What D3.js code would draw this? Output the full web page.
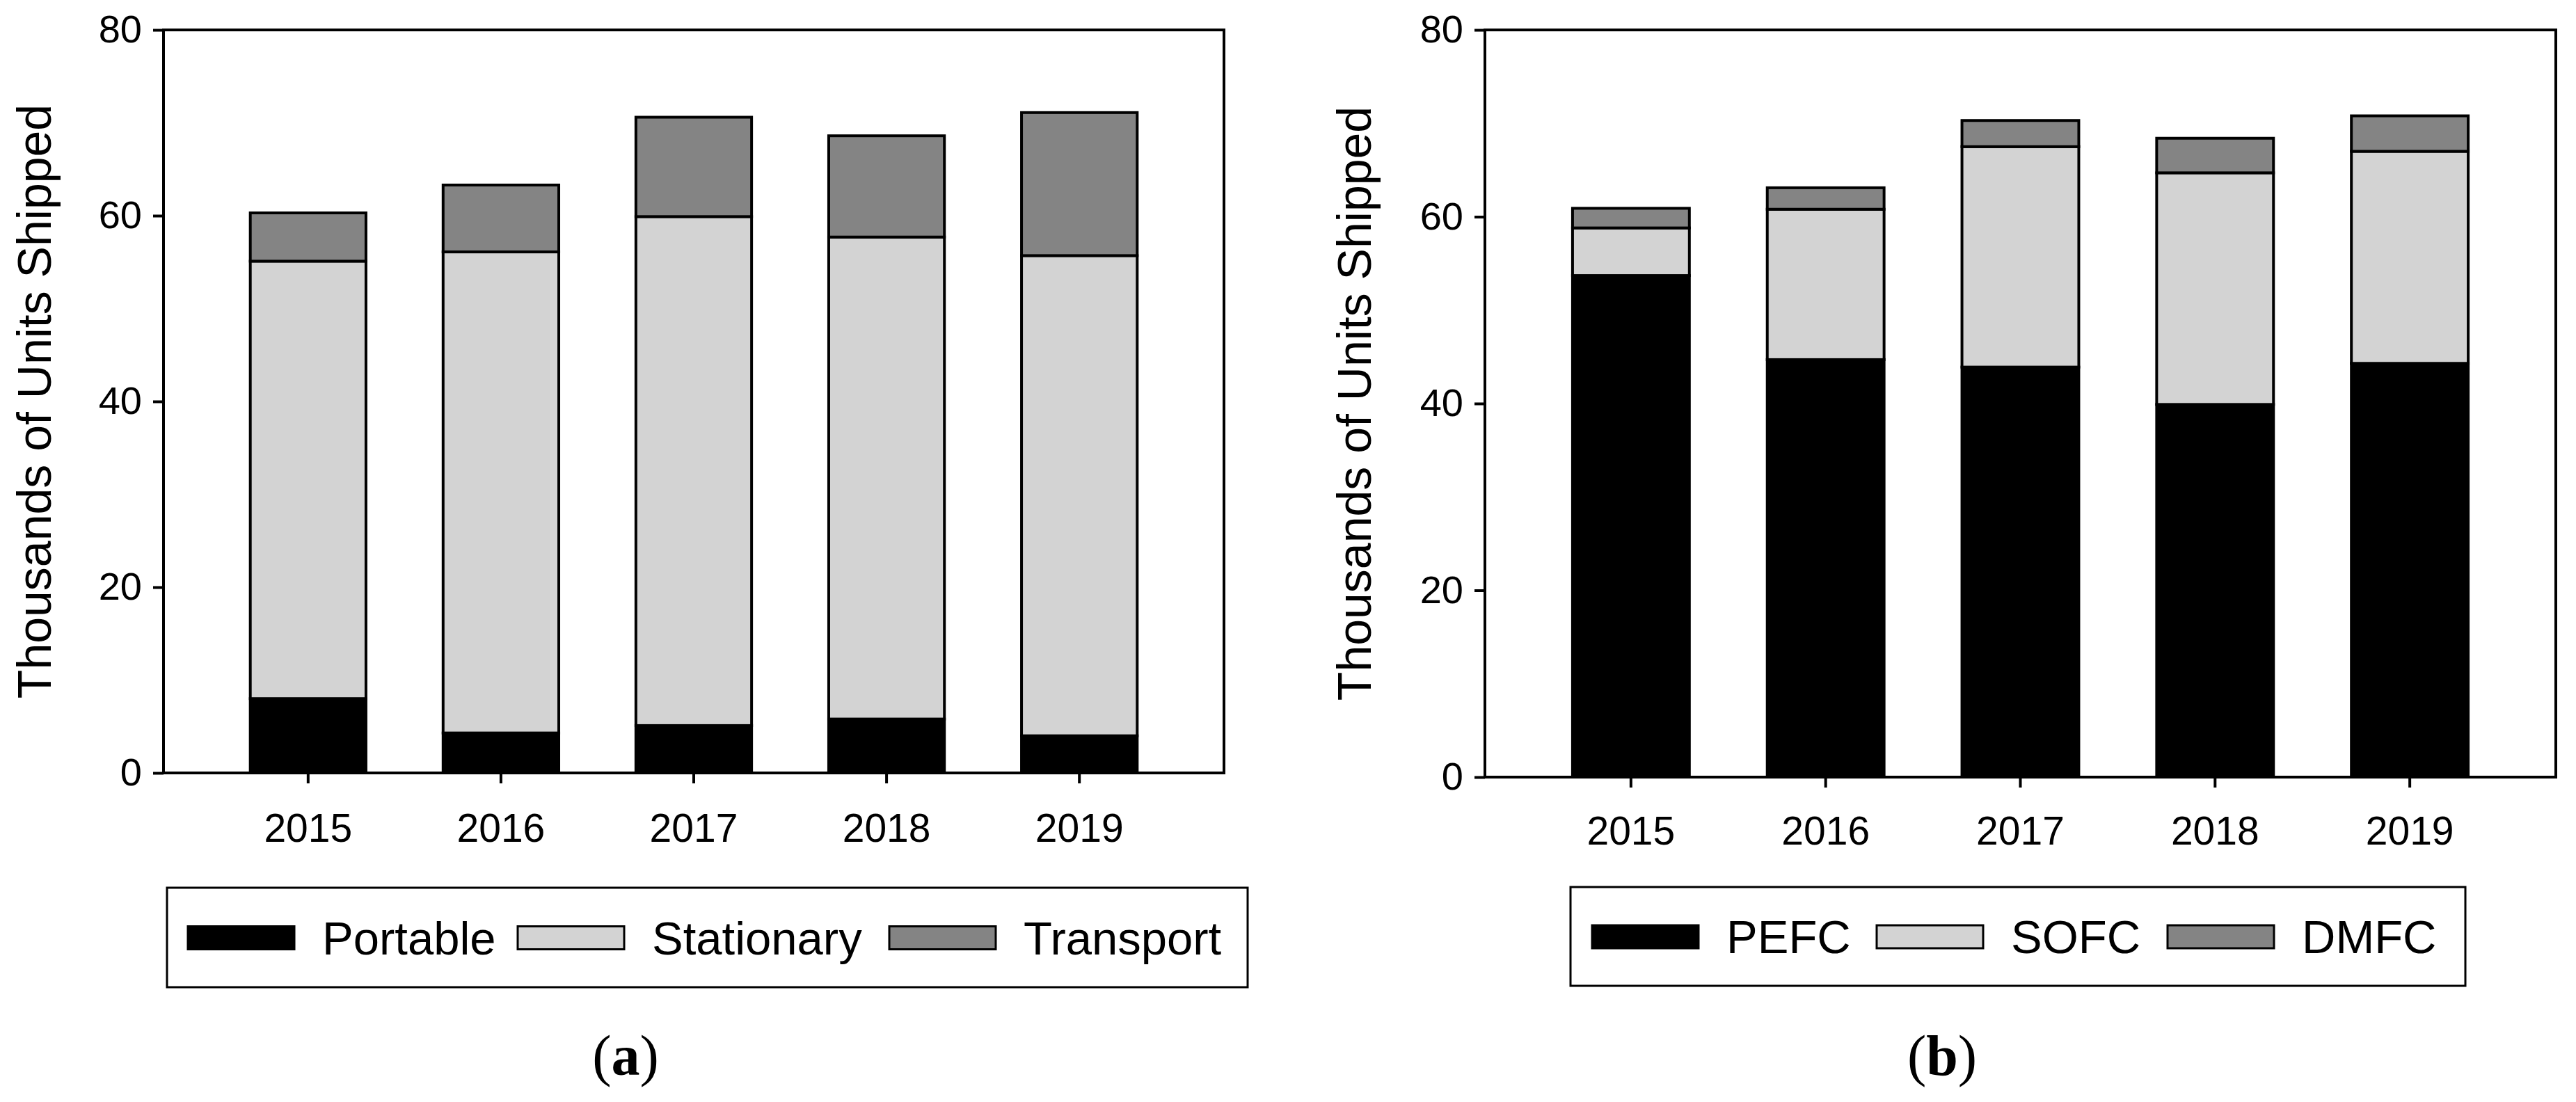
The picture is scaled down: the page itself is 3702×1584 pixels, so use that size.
<!DOCTYPE html>
<html>
<head>
<meta charset="utf-8">
<script src="https://cdn.jsdelivr.net/npm/d3@7.9.0/dist/d3.min.js"></script>
<style>
  html, body { margin: 0; padding: 0; background: #fff; }
  svg text { font-family: "Liberation Sans", Arial, sans-serif; fill: #000; }
  .caption { font-family: "Liberation Serif", "Times New Roman", serif; }
</style>
</head>
<body>
<svg id="chart" width="3702" height="1584"></svg>
<script>
// data (thousands of units)
const years = ['2015', '2016', '2017', '2018', '2019'];
const yTicks = [0, 20, 40, 60, 80];

const appLabels = ['Portable', 'Stationary', 'Transport'];
const portable = [8.0, 4.3, 5.1, 5.8, 4.0];
const stationary = [47.1, 51.8, 54.8, 51.9, 51.7];
const transport = [5.2, 7.2, 10.7, 10.9, 15.4];

const typeLabels = ['PEFC', 'SOFC', 'DMFC'];
const pefc = [53.7, 44.7, 43.9, 39.9, 44.3];
const sofc = [5.1, 16.1, 23.6, 24.8, 22.7];
const dmfc = [2.1, 2.3, 2.8, 3.7, 3.8];

const fills = ['#000000', '#d3d3d3', '#848484'];

const svg = d3.select('#chart');

// build rows for d3.stack
function rows(labels, series) {
  return years.map((y, i) => {
    const r = { year: y };
    labels.forEach((l, k) => { r[l] = series[k][i]; });
    return r;
  });
}

function drawPanel(p) {
  const g = svg.append('g');
  const x = d3.scaleBand().domain(years)
    .range([p.left, p.right]).paddingInner(0.4).paddingOuter(0.45);
  const y = d3.scaleLinear().domain([0, 80]).range([p.bottom, p.top]);

  const stacked = d3.stack().keys(p.labels)(rows(p.labels, p.series));

  stacked.forEach((layer, k) => {
    g.append('g').selectAll('rect')
      .data(layer)
      .join('rect')
      .attr('x', d => x(d.data.year))
      .attr('width', x.bandwidth())
      .attr('y', d => y(d[1]))
      .attr('height', d => y(d[0]) - y(d[1]))
      .attr('fill', fills[k])
      .attr('stroke', '#000')
      .attr('stroke-width', 4);
  });

  // frame
  g.append('rect')
    .attr('x', p.left).attr('y', p.top)
    .attr('width', p.right - p.left).attr('height', p.bottom - p.top)
    .attr('fill', 'none').attr('stroke', '#000').attr('stroke-width', 4);

  const yAxis = g.append('g')
    .attr('transform', `translate(${p.left},0)`)
    .call(d3.axisLeft(y).tickValues(yTicks).tickSize(15).tickPadding(16).tickSizeOuter(0));
  yAxis.select('.domain').remove();
  yAxis.selectAll('line').attr('stroke-width', 4);
  yAxis.selectAll('text').attr('font-size', 56).style('font-family', '"Liberation Sans", Arial, sans-serif');

  const xAxis = g.append('g')
    .attr('transform', `translate(0,${p.bottom})`)
    .call(d3.axisBottom(x).tickSize(15).tickPadding(p.xPad).tickSizeOuter(0));
  xAxis.select('.domain').remove();
  xAxis.selectAll('line').attr('stroke-width', 4);
  xAxis.selectAll('text').attr('font-size', 57).style('font-family', '"Liberation Sans", Arial, sans-serif');

  g.append('text')
    .attr('transform', `translate(${p.titleX},${(p.top + p.bottom) / 2}) rotate(-90)`)
    .attr('text-anchor', 'middle')
    .attr('font-size', 68)
    .text('Thousands of Units Shipped');

  // legend
  const lg = g.append('g');
  lg.append('rect')
    .attr('x', p.legend.x0).attr('y', p.legend.y0)
    .attr('width', p.legend.x1 - p.legend.x0).attr('height', p.legend.y1 - p.legend.y0)
    .attr('fill', '#fff').attr('stroke', '#000').attr('stroke-width', 3);
  const mid = (p.legend.y0 + p.legend.y1) / 2;
  p.labels.forEach((l, k) => {
    const sx = p.legend.items[k];
    lg.append('rect')
      .attr('x', sx).attr('y', mid - 16)
      .attr('width', 153).attr('height', 33)
      .attr('fill', fills[k]).attr('stroke', '#000').attr('stroke-width', 3);
    lg.append('text')
      .attr('x', sx + 193).attr('y', mid + 24)
      .attr('font-size', 67)
      .text(l);
  });

  const cap = g.append('text')
    .attr('class', 'caption')
    .attr('x', p.capX).attr('y', 1545)
    .attr('text-anchor', 'middle')
    .attr('font-size', 82);
  cap.append('tspan').text('(');
  cap.append('tspan').attr('font-weight', 'bold').text(p.cap);
  cap.append('tspan').text(')');
}

drawPanel({
  left: 235, right: 1759, top: 43, bottom: 1111, xPad: 44, titleX: 73,
  labels: appLabels, series: [portable, stationary, transport],
  legend: { x0: 240, x1: 1793, y0: 1276, y1: 1419, items: [270, 744, 1278] },
  capX: 899, cap: 'a'
});

drawPanel({
  left: 2134, right: 3673, top: 43, bottom: 1117, xPad: 42, titleX: 1970,
  labels: typeLabels, series: [pefc, sofc, dmfc],
  legend: { x0: 2257, x1: 3543, y0: 1275, y1: 1417, items: [2288, 2697, 3115] },
  capX: 2791, cap: 'b'
});
</script>
</body>
</html>
